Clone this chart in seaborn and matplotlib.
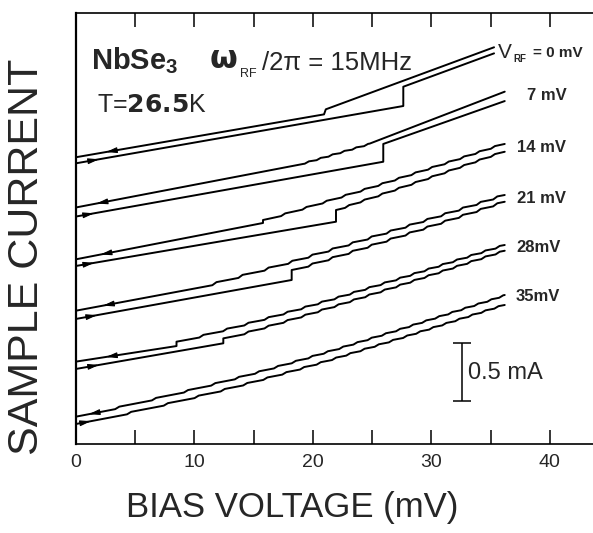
import numpy as np
import pandas as pd
import seaborn as sns
from matplotlib import pyplot as plt

# bias voltage (mV) / sample current (mA) knots
# ret_* = return sweep (upper trace, arrow to the left), fwd_* = forward sweep (lower trace)
rf_amplitudes = [0, 7, 14, 21, 28, 35]
ret_0 = [(0, 2.500), (20.95, 2.874), (21.1, 2.918), (35.3, 3.459)]
fwd_0 = [(0, 2.447), (27.64, 2.947), (27.64, 3.115), (35.3, 3.406)]
ret_7 = [(0, 2.062), (19.2, 2.442), (24.8, 2.619), (36.2, 3.072)]
fwd_7 = [(0, 1.983), (25.95, 2.461), (25.95, 2.616), (36.2, 2.990)]
ret_14 = [(0, 1.610), (15.8, 1.927), (15.8, 1.953), (36.2, 2.616)]
fwd_14 = [(0, 1.552), (21.96, 1.938), (21.96, 2.040), (36.2, 2.548)]
ret_21 = [(0, 1.162), (11.4, 1.382), (36.2, 2.171)]
fwd_21 = [(0, 1.090), (18.22, 1.430), (18.22, 1.517), (36.2, 2.112)]
ret_28 = [(0, 0.718), (8.5, 0.854), (8.5, 0.892), (36.2, 1.735)]
fwd_28 = [(0, 0.654), (12.45, 0.878), (12.45, 0.921), (36.2, 1.685)]
ret_35 = [(0, 0.238), (36.2, 1.299)]
fwd_35 = [(0, 0.174), (36.2, 1.212)]

# small steps on the traces (bias mV where the trace rises) and their height (mA)
ris_ret_0 = []
ris_fwd_0 = []
ris_ret_7 = [19.5, 20.5, 21.5, 22.5, 23.5, 24.5]
ris_fwd_7 = []
ris_ret_14 = [17.5, 19.3, 21.0, 22.6, 24.2, 25.7, 27.1, 28.5, 29.9, 31.3, 32.6, 33.9, 35.2]
ris_fwd_14 = [22.9, 24.2, 25.7, 27.1, 28.5, 29.9, 31.3, 32.6, 33.9, 35.2]
ris_ret_21 = [11.7, 13.9, 16.1, 18.1, 19.8, 21.5, 23.2, 24.8, 26.4, 28.0, 29.5, 31.0, 32.5, 34.0, 35.4]
ris_fwd_21 = [19.8, 21.5, 23.2, 24.8, 26.4, 28.0, 29.5, 31.0, 32.5, 34.0, 35.4]
ris_ret_28 = [10.6, 12.6, 14.4, 16.1, 17.7, 19.2, 20.6, 22.0, 23.3, 24.6, 25.9, 27.2, 28.4,
              29.6, 30.8, 32.0, 33.2, 34.4, 35.6]
ris_fwd_28 = [14.4, 16.1, 17.7, 19.2, 20.6, 22.0, 23.3, 24.6, 25.9, 27.2, 28.4, 29.6, 30.8,
              32.0, 33.2, 34.4, 35.6]
ris_ret_35 = [3.5, 6.6, 9.3, 11.6, 13.6, 15.3, 16.9, 18.4, 19.8, 21.1, 22.4, 23.6, 24.8, 26.0,
              27.2, 28.3, 29.4, 30.5, 31.6, 32.7, 33.8, 34.9, 35.9]
ris_fwd_35 = [4.5, 7.6, 10.2, 12.4, 14.3, 16.0, 17.6, 19.1, 20.5, 21.8, 23.0, 24.2, 25.4, 26.6,
              27.8, 28.9, 30.0, 31.1, 32.2, 33.3, 34.4, 35.5]
riser_mA = [0, 0.015, 0.016, 0.02, 0.017, 0.015]
riser_width_mV = 0.35

# tips of the sweep-direction arrowheads (mV)
arrow_ret = [2.55, 1.76, 2.1, 2.3, 2.55, 1.1]
arrow_fwd = [1.96, 1.54, 1.55, 1.8, 1.96, 1.28]

# curve labels
curve_labels = ['7 mV', '14 mV', '21 mV', '28mV', '35mV']
label_v = [38.07, 37.23, 37.2, 37.15, 37.15]
label_i = [3.00, 2.548, 2.104, 1.677, 1.25]

ret_all = [ret_0, ret_7, ret_14, ret_21, ret_28, ret_35]
fwd_all = [fwd_0, fwd_7, fwd_14, fwd_21, fwd_28, fwd_35]
ris_ret_all = [ris_ret_0, ris_ret_7, ris_ret_14, ris_ret_21, ris_ret_28, ris_ret_35]
ris_fwd_all = [ris_fwd_0, ris_fwd_7, ris_fwd_14, ris_fwd_21, ris_fwd_28, ris_fwd_35]


def build_trace(knots, risers, h, w):
    # polyline through the knots, with the listed (slightly slanted) risers in between
    vs = [knots[0][0]]
    cs = [knots[0][1]]
    for (va, ia), (vb, ib) in zip(knots[:-1], knots[1:]):
        if vb == va:
            vs.append(vb)
            cs.append(ib)
            continue
        inside = [r for r in risers if va < r - w / 2 and r + w / 2 < vb]
        slope = (ib - ia - h * len(inside)) / (vb - va)
        pts = sorted([r - w / 2 for r in inside] + [r + w / 2 for r in inside] + [vb])
        for v in pts:
            lift = sum(np.clip((v - (r - w / 2)) / w, 0, 1) for r in inside)
            vs.append(v)
            cs.append(ia + slope * (v - va) + h * lift)
    return vs, cs


rows = []
traces = {}
for k, rf in enumerate(rf_amplitudes):
    for name, knots, ris in [('ret', ret_all[k], ris_ret_all[k]), ('fwd', fwd_all[k], ris_fwd_all[k])]:
        vs, cs = build_trace(knots, ris, riser_mA[k], riser_width_mV)
        traces[(rf, name)] = (np.array(vs), np.array(cs))
        for n, (v, c) in enumerate(zip(vs, cs)):
            rows.append({'branch': f'{rf}_{name}', 'order': n, 'V': v, 'I': c})
df = pd.DataFrame(rows)

sns.set_style('white')
plt.rcParams['font.family'] = ['Liberation Sans', 'DejaVu Sans']

fig = plt.figure(figsize=(5.93, 5.33), dpi=100)
ax = fig.add_axes([0.1278, 0.167, 0.8722, 0.8095])

sns.lineplot(data=df, x='V', y='I', units='branch', estimator=None, sort=False,
             color='black', linewidth=1.4, legend=False, ax=ax)

# sweep direction arrowheads
for k, rf in enumerate(rf_amplitudes):
    for name, va, d in [('ret', arrow_ret[k], 1), ('fwd', arrow_fwd[k], -1)]:
        vs, cs = traces[(rf, name)]
        tip = (va, np.interp(va, vs, cs))
        tail = (va + d * 0.8, np.interp(va + d * 0.8, vs, cs))
        ax.annotate('', xy=tip, xytext=tail,
                    arrowprops=dict(arrowstyle='-|>,head_length=0.65,head_width=0.17',
                                    fc='black', ec='black', lw=0.8, shrinkA=0, shrinkB=0))

ax.set_xlim(0, 43.65)
ax.set_ylim(0, 3.762)
ax.set_xticks([0, 10, 20, 30, 40])
ax.set_xticks([5, 15, 25, 35], minor=True)
ax.set_yticks([])
ax.tick_params(axis='x', which='both', direction='in', top=True, bottom=True,
               length=10, width=1.1, labelsize=14, pad=7, color='black')
for s in ['top', 'bottom']:
    ax.spines[s].set_linewidth(1.2)
    ax.spines[s].set_color('black')
ax.spines['left'].set_linewidth(1.6)
ax.spines['left'].set_color('black')
ax.spines['right'].set_visible(False)

ax.set_xlabel('BIAS VOLTAGE (mV)', fontsize=25, va='center')
ax.xaxis.set_label_coords(0.419, -0.148)
ax.set_ylabel('SAMPLE CURRENT', fontsize=31, va='center')
ax.yaxis.set_label_coords(-0.0944, 0.4345)

# header texts
ax.text(1.26, 3.269, r'NbSe$_{\mathregular{3}}$', fontsize=21, fontweight='bold', va='baseline')
ax.text(11.33, 3.278, 'ω', fontsize=23, fontweight='bold', family='DejaVu Sans', va='baseline')
ax.text(13.84, 3.20, 'RF', fontsize=9, va='baseline')
ax.text(15.71, 3.26, '/2π = 15MHz', fontsize=18.5, va='baseline')
ax.text(1.76, 2.897, r'T=$\mathbf{26.5}$K', fontsize=18, va='baseline')

# V_RF labels
ax.text(35.63, 3.363, 'V', fontsize=15, va='baseline')
ax.text(36.89, 3.333, 'RF', fontsize=7, fontweight='bold', va='baseline')
ax.text(38.58, 3.377, '= 0 mV', fontsize=11, fontweight='bold', va='baseline')
for lab, lv, li in zip(curve_labels, label_v, label_i):
    ax.text(lv, li, lab, fontsize=12, fontweight='bold', va='baseline')

# 0.5 mA scale bar
ax.errorbar([32.6], [0.628], yerr=[0.25], color='black', capsize=6.8, elinewidth=1.1,
            capthick=1.1, fmt='none')
ax.text(33.1, 0.567, '0.5 mA', fontsize=17, va='baseline')

fig.savefig('out.png', dpi=100)
